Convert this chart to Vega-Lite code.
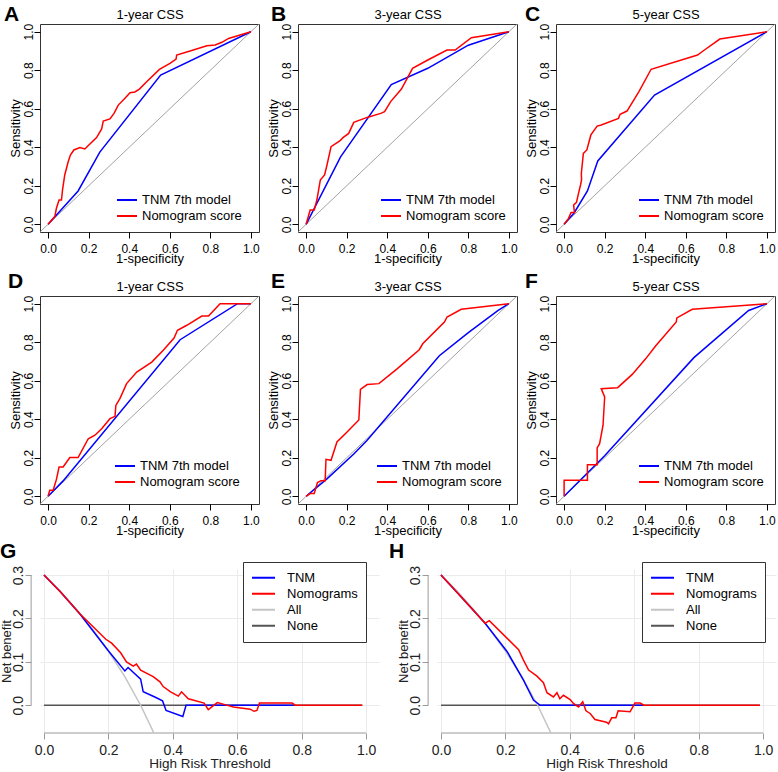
{
"$schema":"https://vega.github.io/schema/vega-lite/v6.json",
"padding":{"left":0,"top":3,"right":1,"bottom":1},
"background":"white",
"config":{
 "font":"Liberation Sans",
 "numberFormat":".1f",
 "view":{"stroke":"#333","strokeWidth":1},
 "axis":{"labelColor":"black","titleColor":"black","tickColor":"black","titleFontWeight":"normal","domain":false,"grid":false,"labelFlush":false,"labelOverlap":false},
 "axisY":{"labelAngle":-90,"labelAlign":"center","labelBaseline":"bottom"},
 "title":{"fontSize":21,"fontWeight":"bold","anchor":"start","frame":"bounds","color":"black","offset":0},
 "legend":{"labelColor":"black","symbolType":"stroke"}
},
"datasets":{
 "A":[
  {"m":"TNM 7th model","i":0,"x":0,"y":0},{"m":"TNM 7th model","i":1,"x":0.148,"y":0.173},{"m":"TNM 7th model","i":2,"x":0.255,"y":0.375},{"m":"TNM 7th model","i":3,"x":0.555,"y":0.775},{"m":"TNM 7th model","i":4,"x":1,"y":1},
  {"m":"Nomogram score","i":0,"x":0,"y":0},{"m":"Nomogram score","i":1,"x":0.033,"y":0.04},{"m":"Nomogram score","i":2,"x":0.041,"y":0.083},{"m":"Nomogram score","i":3,"x":0.054,"y":0.126},{"m":"Nomogram score","i":4,"x":0.066,"y":0.126},{"m":"Nomogram score","i":5,"x":0.071,"y":0.178},{"m":"Nomogram score","i":6,"x":0.082,"y":0.256},{"m":"Nomogram score","i":7,"x":0.099,"y":0.325},{"m":"Nomogram score","i":8,"x":0.11,"y":0.36},{"m":"Nomogram score","i":9,"x":0.127,"y":0.386},{"m":"Nomogram score","i":10,"x":0.157,"y":0.398},{"m":"Nomogram score","i":11,"x":0.181,"y":0.391},{"m":"Nomogram score","i":12,"x":0.206,"y":0.417},{"m":"Nomogram score","i":13,"x":0.239,"y":0.45},{"m":"Nomogram score","i":14,"x":0.264,"y":0.495},{"m":"Nomogram score","i":15,"x":0.272,"y":0.536},{"m":"Nomogram score","i":16,"x":0.305,"y":0.547},{"m":"Nomogram score","i":17,"x":0.325,"y":0.576},{"m":"Nomogram score","i":18,"x":0.346,"y":0.619},{"m":"Nomogram score","i":19,"x":0.379,"y":0.654},{"m":"Nomogram score","i":20,"x":0.404,"y":0.683},{"m":"Nomogram score","i":21,"x":0.428,"y":0.687},{"m":"Nomogram score","i":22,"x":0.45,"y":0.702},{"m":"Nomogram score","i":23,"x":0.486,"y":0.74},{"m":"Nomogram score","i":24,"x":0.549,"y":0.804},{"m":"Nomogram score","i":25,"x":0.601,"y":0.836},{"m":"Nomogram score","i":26,"x":0.631,"y":0.858},{"m":"Nomogram score","i":27,"x":0.634,"y":0.879},{"m":"Nomogram score","i":28,"x":0.7,"y":0.9},{"m":"Nomogram score","i":29,"x":0.783,"y":0.927},{"m":"Nomogram score","i":30,"x":0.824,"y":0.931},{"m":"Nomogram score","i":31,"x":0.857,"y":0.945},{"m":"Nomogram score","i":32,"x":0.89,"y":0.965},{"m":"Nomogram score","i":33,"x":1,"y":1}
 ],
 "B":[
  {"m":"TNM 7th model","i":0,"x":0,"y":0},{"m":"TNM 7th model","i":1,"x":0.17,"y":0.35},{"m":"TNM 7th model","i":2,"x":0.42,"y":0.725},{"m":"TNM 7th model","i":3,"x":0.6,"y":0.81},{"m":"TNM 7th model","i":4,"x":0.8,"y":0.93},{"m":"TNM 7th model","i":5,"x":1,"y":1},
  {"m":"Nomogram score","i":0,"x":0,"y":0},{"m":"Nomogram score","i":1,"x":0.02,"y":0.074},{"m":"Nomogram score","i":2,"x":0.04,"y":0.074},{"m":"Nomogram score","i":3,"x":0.053,"y":0.126},{"m":"Nomogram score","i":4,"x":0.07,"y":0.23},{"m":"Nomogram score","i":5,"x":0.091,"y":0.256},{"m":"Nomogram score","i":6,"x":0.103,"y":0.308},{"m":"Nomogram score","i":7,"x":0.123,"y":0.403},{"m":"Nomogram score","i":8,"x":0.166,"y":0.433},{"m":"Nomogram score","i":9,"x":0.182,"y":0.45},{"m":"Nomogram score","i":10,"x":0.21,"y":0.472},{"m":"Nomogram score","i":11,"x":0.235,"y":0.529},{"m":"Nomogram score","i":12,"x":0.301,"y":0.555},{"m":"Nomogram score","i":13,"x":0.368,"y":0.576},{"m":"Nomogram score","i":14,"x":0.387,"y":0.585},{"m":"Nomogram score","i":15,"x":0.417,"y":0.637},{"m":"Nomogram score","i":16,"x":0.47,"y":0.702},{"m":"Nomogram score","i":17,"x":0.525,"y":0.81},{"m":"Nomogram score","i":18,"x":0.6,"y":0.853},{"m":"Nomogram score","i":19,"x":0.695,"y":0.905},{"m":"Nomogram score","i":20,"x":0.735,"y":0.905},{"m":"Nomogram score","i":21,"x":0.815,"y":0.969},{"m":"Nomogram score","i":22,"x":1,"y":1}
 ],
 "C":[
  {"m":"TNM 7th model","i":0,"x":0,"y":0},{"m":"TNM 7th model","i":1,"x":0.05,"y":0.06},{"m":"TNM 7th model","i":2,"x":0.115,"y":0.173},{"m":"TNM 7th model","i":3,"x":0.166,"y":0.329},{"m":"TNM 7th model","i":4,"x":0.446,"y":0.671},{"m":"TNM 7th model","i":5,"x":1,"y":1},
  {"m":"Nomogram score","i":0,"x":0,"y":0},{"m":"Nomogram score","i":1,"x":0.022,"y":0.031},{"m":"Nomogram score","i":2,"x":0.034,"y":0.061},{"m":"Nomogram score","i":3,"x":0.051,"y":0.061},{"m":"Nomogram score","i":4,"x":0.047,"y":0.1},{"m":"Nomogram score","i":5,"x":0.061,"y":0.114},{"m":"Nomogram score","i":6,"x":0.073,"y":0.17},{"m":"Nomogram score","i":7,"x":0.081,"y":0.204},{"m":"Nomogram score","i":8,"x":0.086,"y":0.23},{"m":"Nomogram score","i":9,"x":0.085,"y":0.265},{"m":"Nomogram score","i":10,"x":0.095,"y":0.368},{"m":"Nomogram score","i":11,"x":0.112,"y":0.386},{"m":"Nomogram score","i":12,"x":0.132,"y":0.464},{"m":"Nomogram score","i":13,"x":0.163,"y":0.51},{"m":"Nomogram score","i":14,"x":0.183,"y":0.516},{"m":"Nomogram score","i":15,"x":0.268,"y":0.55},{"m":"Nomogram score","i":16,"x":0.276,"y":0.571},{"m":"Nomogram score","i":17,"x":0.31,"y":0.588},{"m":"Nomogram score","i":18,"x":0.369,"y":0.689},{"m":"Nomogram score","i":19,"x":0.429,"y":0.805},{"m":"Nomogram score","i":20,"x":0.658,"y":0.879},{"m":"Nomogram score","i":21,"x":0.692,"y":0.905},{"m":"Nomogram score","i":22,"x":0.768,"y":0.962},{"m":"Nomogram score","i":23,"x":1,"y":1}
 ],
 "D":[
  {"m":"TNM 7th model","i":0,"x":0,"y":0},{"m":"TNM 7th model","i":1,"x":0.074,"y":0.08},{"m":"TNM 7th model","i":2,"x":0.651,"y":0.813},{"m":"TNM 7th model","i":3,"x":0.934,"y":1},{"m":"TNM 7th model","i":4,"x":1,"y":1},
  {"m":"Nomogram score","i":0,"x":0,"y":0},{"m":"Nomogram score","i":1,"x":0.008,"y":0.031},{"m":"Nomogram score","i":2,"x":0.025,"y":0.031},{"m":"Nomogram score","i":3,"x":0.041,"y":0.088},{"m":"Nomogram score","i":4,"x":0.054,"y":0.152},{"m":"Nomogram score","i":5,"x":0.074,"y":0.152},{"m":"Nomogram score","i":6,"x":0.107,"y":0.201},{"m":"Nomogram score","i":7,"x":0.148,"y":0.201},{"m":"Nomogram score","i":8,"x":0.198,"y":0.299},{"m":"Nomogram score","i":9,"x":0.231,"y":0.317},{"m":"Nomogram score","i":10,"x":0.264,"y":0.351},{"m":"Nomogram score","i":11,"x":0.305,"y":0.403},{"m":"Nomogram score","i":12,"x":0.33,"y":0.415},{"m":"Nomogram score","i":13,"x":0.334,"y":0.472},{"m":"Nomogram score","i":14,"x":0.354,"y":0.507},{"m":"Nomogram score","i":15,"x":0.387,"y":0.585},{"m":"Nomogram score","i":16,"x":0.437,"y":0.645},{"m":"Nomogram score","i":17,"x":0.511,"y":0.697},{"m":"Nomogram score","i":18,"x":0.568,"y":0.758},{"m":"Nomogram score","i":19,"x":0.621,"y":0.822},{"m":"Nomogram score","i":20,"x":0.638,"y":0.862},{"m":"Nomogram score","i":21,"x":0.684,"y":0.888},{"m":"Nomogram score","i":22,"x":0.758,"y":0.936},{"m":"Nomogram score","i":23,"x":0.791,"y":0.936},{"m":"Nomogram score","i":24,"x":0.848,"y":1},{"m":"Nomogram score","i":25,"x":1,"y":1}
 ],
 "E":[
  {"m":"TNM 7th model","i":0,"x":0,"y":0},{"m":"TNM 7th model","i":1,"x":0.1,"y":0.088},{"m":"TNM 7th model","i":2,"x":0.235,"y":0.22},{"m":"TNM 7th model","i":3,"x":0.3,"y":0.29},{"m":"TNM 7th model","i":4,"x":0.657,"y":0.73},{"m":"TNM 7th model","i":5,"x":0.8,"y":0.85},{"m":"TNM 7th model","i":6,"x":0.947,"y":0.965},{"m":"TNM 7th model","i":7,"x":1,"y":1},
  {"m":"Nomogram score","i":0,"x":0,"y":0},{"m":"Nomogram score","i":1,"x":0.02,"y":0.014},{"m":"Nomogram score","i":2,"x":0.04,"y":0.014},{"m":"Nomogram score","i":3,"x":0.056,"y":0.071},{"m":"Nomogram score","i":4,"x":0.073,"y":0.081},{"m":"Nomogram score","i":5,"x":0.094,"y":0.081},{"m":"Nomogram score","i":6,"x":0.098,"y":0.192},{"m":"Nomogram score","i":7,"x":0.123,"y":0.187},{"m":"Nomogram score","i":8,"x":0.152,"y":0.282},{"m":"Nomogram score","i":9,"x":0.202,"y":0.334},{"m":"Nomogram score","i":10,"x":0.26,"y":0.396},{"m":"Nomogram score","i":11,"x":0.268,"y":0.555},{"m":"Nomogram score","i":12,"x":0.301,"y":0.58},{"m":"Nomogram score","i":13,"x":0.359,"y":0.585},{"m":"Nomogram score","i":14,"x":0.45,"y":0.663},{"m":"Nomogram score","i":15,"x":0.558,"y":0.761},{"m":"Nomogram score","i":16,"x":0.575,"y":0.792},{"m":"Nomogram score","i":17,"x":0.682,"y":0.905},{"m":"Nomogram score","i":18,"x":0.695,"y":0.931},{"m":"Nomogram score","i":19,"x":0.765,"y":0.971},{"m":"Nomogram score","i":20,"x":1,"y":1}
 ],
 "F":[
  {"m":"TNM 7th model","i":0,"x":0,"y":0},{"m":"TNM 7th model","i":1,"x":0.2,"y":0.21},{"m":"TNM 7th model","i":2,"x":0.64,"y":0.72},{"m":"TNM 7th model","i":3,"x":0.91,"y":0.965},{"m":"TNM 7th model","i":4,"x":1,"y":1},
  {"m":"Nomogram score","i":0,"x":0,"y":0},{"m":"Nomogram score","i":1,"x":0,"y":0.083},{"m":"Nomogram score","i":2,"x":0.115,"y":0.083},{"m":"Nomogram score","i":3,"x":0.115,"y":0.164},{"m":"Nomogram score","i":4,"x":0.163,"y":0.164},{"m":"Nomogram score","i":5,"x":0.163,"y":0.251},{"m":"Nomogram score","i":6,"x":0.175,"y":0.273},{"m":"Nomogram score","i":7,"x":0.192,"y":0.369},{"m":"Nomogram score","i":8,"x":0.2,"y":0.516},{"m":"Nomogram score","i":9,"x":0.183,"y":0.559},{"m":"Nomogram score","i":10,"x":0.264,"y":0.564},{"m":"Nomogram score","i":11,"x":0.336,"y":0.633},{"m":"Nomogram score","i":12,"x":0.403,"y":0.715},{"m":"Nomogram score","i":13,"x":0.451,"y":0.78},{"m":"Nomogram score","i":14,"x":0.553,"y":0.905},{"m":"Nomogram score","i":15,"x":0.556,"y":0.926},{"m":"Nomogram score","i":16,"x":0.632,"y":0.971},{"m":"Nomogram score","i":17,"x":1,"y":1}
 ],
 "G":[
  {"s":"None","i":0,"x":0,"y":0},{"s":"None","i":1,"x":0.988,"y":0},
  {"s":"All","i":0,"x":0,"y":0.3},{"s":"All","i":1,"x":0.05,"y":0.263},{"s":"All","i":2,"x":0.1,"y":0.222},{"s":"All","i":3,"x":0.15,"y":0.176},{"s":"All","i":4,"x":0.2,"y":0.125},{"s":"All","i":5,"x":0.25,"y":0.067},{"s":"All","i":6,"x":0.3,"y":0},{"s":"All","i":7,"x":0.345,"y":-0.07},
  {"s":"TNM","i":0,"x":0,"y":0.3},{"s":"TNM","i":1,"x":0.05,"y":0.262},{"s":"TNM","i":2,"x":0.111,"y":0.211},{"s":"TNM","i":3,"x":0.199,"y":0.126},{"s":"TNM","i":4,"x":0.251,"y":0.079},{"s":"TNM","i":5,"x":0.261,"y":0.087},{"s":"TNM","i":6,"x":0.3,"y":0.06},{"s":"TNM","i":7,"x":0.308,"y":0.031},{"s":"TNM","i":8,"x":0.344,"y":0.019},{"s":"TNM","i":9,"x":0.368,"y":0.01},{"s":"TNM","i":10,"x":0.379,"y":-0.012},{"s":"TNM","i":11,"x":0.431,"y":-0.026},{"s":"TNM","i":12,"x":0.441,"y":0},{"s":"TNM","i":13,"x":0.775,"y":0},
  {"s":"Nomograms","i":0,"x":0,"y":0.3},{"s":"Nomograms","i":1,"x":0.05,"y":0.262},{"s":"Nomograms","i":2,"x":0.111,"y":0.211},{"s":"Nomograms","i":3,"x":0.147,"y":0.185},{"s":"Nomograms","i":4,"x":0.192,"y":0.152},{"s":"Nomograms","i":5,"x":0.21,"y":0.143},{"s":"Nomograms","i":6,"x":0.238,"y":0.121},{"s":"Nomograms","i":7,"x":0.256,"y":0.1},{"s":"Nomograms","i":8,"x":0.277,"y":0.09},{"s":"Nomograms","i":9,"x":0.287,"y":0.095},{"s":"Nomograms","i":10,"x":0.3,"y":0.081},{"s":"Nomograms","i":11,"x":0.339,"y":0.066},{"s":"Nomograms","i":12,"x":0.36,"y":0.054},{"s":"Nomograms","i":13,"x":0.37,"y":0.043},{"s":"Nomograms","i":14,"x":0.393,"y":0.031},{"s":"Nomograms","i":15,"x":0.417,"y":0.021},{"s":"Nomograms","i":16,"x":0.427,"y":0.031},{"s":"Nomograms","i":17,"x":0.448,"y":0.015},{"s":"Nomograms","i":18,"x":0.497,"y":0.005},{"s":"Nomograms","i":19,"x":0.51,"y":-0.01},{"s":"Nomograms","i":20,"x":0.538,"y":0.006},{"s":"Nomograms","i":21,"x":0.559,"y":0.002},{"s":"Nomograms","i":22,"x":0.588,"y":-0.004},{"s":"Nomograms","i":23,"x":0.64,"y":-0.009},{"s":"Nomograms","i":24,"x":0.652,"y":-0.014},{"s":"Nomograms","i":25,"x":0.661,"y":-0.012},{"s":"Nomograms","i":26,"x":0.669,"y":0.005},{"s":"Nomograms","i":27,"x":0.77,"y":0.005},{"s":"Nomograms","i":28,"x":0.78,"y":0},{"s":"Nomograms","i":29,"x":0.988,"y":0}
 ],
 "H":[
  {"s":"None","i":0,"x":0,"y":0},{"s":"None","i":1,"x":0.99,"y":0},
  {"s":"All","i":0,"x":0,"y":0.3},{"s":"All","i":1,"x":0.05,"y":0.263},{"s":"All","i":2,"x":0.1,"y":0.222},{"s":"All","i":3,"x":0.15,"y":0.176},{"s":"All","i":4,"x":0.2,"y":0.125},{"s":"All","i":5,"x":0.25,"y":0.067},{"s":"All","i":6,"x":0.3,"y":0},{"s":"All","i":7,"x":0.345,"y":-0.07},
  {"s":"TNM","i":0,"x":0,"y":0.3},{"s":"TNM","i":1,"x":0.05,"y":0.26},{"s":"TNM","i":2,"x":0.137,"y":0.189},{"s":"TNM","i":3,"x":0.205,"y":0.124},{"s":"TNM","i":4,"x":0.256,"y":0.058},{"s":"TNM","i":5,"x":0.287,"y":0.012},{"s":"TNM","i":6,"x":0.308,"y":0},{"s":"TNM","i":7,"x":0.628,"y":0},
  {"s":"Nomograms","i":0,"x":0,"y":0.3},{"s":"Nomograms","i":1,"x":0.05,"y":0.26},{"s":"Nomograms","i":2,"x":0.137,"y":0.189},{"s":"Nomograms","i":3,"x":0.15,"y":0.195},{"s":"Nomograms","i":4,"x":0.241,"y":0.128},{"s":"Nomograms","i":5,"x":0.256,"y":0.104},{"s":"Nomograms","i":6,"x":0.272,"y":0.081},{"s":"Nomograms","i":7,"x":0.298,"y":0.067},{"s":"Nomograms","i":8,"x":0.318,"y":0.052},{"s":"Nomograms","i":9,"x":0.329,"y":0.029},{"s":"Nomograms","i":10,"x":0.349,"y":0.019},{"s":"Nomograms","i":11,"x":0.36,"y":0.029},{"s":"Nomograms","i":12,"x":0.369,"y":0.015},{"s":"Nomograms","i":13,"x":0.38,"y":0.023},{"s":"Nomograms","i":14,"x":0.401,"y":0.013},{"s":"Nomograms","i":15,"x":0.411,"y":0.004},{"s":"Nomograms","i":16,"x":0.427,"y":-0.004},{"s":"Nomograms","i":17,"x":0.44,"y":0.008},{"s":"Nomograms","i":18,"x":0.45,"y":-0.013},{"s":"Nomograms","i":19,"x":0.463,"y":-0.019},{"s":"Nomograms","i":20,"x":0.478,"y":-0.033},{"s":"Nomograms","i":21,"x":0.514,"y":-0.039},{"s":"Nomograms","i":22,"x":0.52,"y":-0.043},{"s":"Nomograms","i":23,"x":0.53,"y":-0.029},{"s":"Nomograms","i":24,"x":0.543,"y":-0.029},{"s":"Nomograms","i":25,"x":0.55,"y":-0.013},{"s":"Nomograms","i":26,"x":0.587,"y":-0.015},{"s":"Nomograms","i":27,"x":0.602,"y":0.005},{"s":"Nomograms","i":28,"x":0.618,"y":0.005},{"s":"Nomograms","i":29,"x":0.63,"y":0},{"s":"Nomograms","i":30,"x":0.99,"y":0}
 ]
},
"resolve":{"scale":{"color":"independent"},"legend":{"color":"independent"}},
"spacing":2,
"vconcat":[
 {"vconcat":[
 {"hconcat":[
  {"width":219,"height":208,"title":{"text":"A","dy":21,"dx":-5},"data":{"name":"A"},
   "layer":[
    {"data":{"values":[{"x":-0.04,"y":-0.04},{"x":1.04,"y":1.04}]},"mark":{"type":"line","color":"#8a8a8a","strokeWidth":0.8,"clip":true},
     "encoding":{"x":{"field":"x","type":"quantitative","scale":{"domain":[-0.04,1.04],"nice":false,"zero":false},"axis":{"orient":"top","labels":false,"ticks":false,"title":"1-year CSS","titleFontSize":13,"titleFontWeight":"normal","titlePadding":3}},
      "y":{"field":"y","type":"quantitative","scale":{"domain":[-0.04,1.04],"nice":false,"zero":false},"axis":{"values":[0,0.2,0.4,0.6,0.8,1],"tickSize":6,"labelFontSize":12,"labelPadding":-1,"title":"Sensitivity","titleFontSize":13,"titlePadding":0}}}},
    {"transform":[{"filter":"datum.m=='TNM 7th model'"}],"mark":{"type":"line","strokeWidth":1.5,"clip":true},
     "encoding":{"x":{"field":"x","type":"quantitative","axis":{"orient":"bottom","values":[0,0.2,0.4,0.6,0.8,1],"tickSize":6,"labelFontSize":12,"labelPadding":5,"title":"1-specificity","titleFontSize":13,"titlePadding":-2}},"y":{"field":"y","type":"quantitative"},"order":{"field":"i"},
      "color":{"field":"m","type":"nominal","scale":{"domain":["TNM 7th model","Nomogram score"],"range":["#0000ff","#ff0000"]},"legend":{"title":null,"orient":"none","legendX":76,"legendY":168,"symbolSize":400,"symbolStrokeWidth":2,"labelFontSize":13,"labelOffset":4,"rowPadding":0,"clipHeight":16,"padding":0}}}},
    {"transform":[{"filter":"datum.m=='Nomogram score'"}],"mark":{"type":"line","strokeWidth":1.5,"clip":true},
     "encoding":{"x":{"field":"x","type":"quantitative","axis":null},"y":{"field":"y","type":"quantitative"},"order":{"field":"i"},
      "color":{"field":"m","type":"nominal","scale":{"domain":["TNM 7th model","Nomogram score"],"range":["#0000ff","#ff0000"]},"legend":{"title":null,"orient":"none","legendX":76,"legendY":168,"symbolSize":400,"symbolStrokeWidth":2,"labelFontSize":13,"labelOffset":4,"rowPadding":0,"clipHeight":16,"padding":0}}}}
   ],
   "resolve":{"axis":{"x":"independent"}}},
  {"width":219,"height":208,"title":{"text":"B","dy":21,"dx":4},"data":{"name":"B"},
   "layer":[
    {"data":{"values":[{"x":-0.04,"y":-0.04},{"x":1.04,"y":1.04}]},"mark":{"type":"line","color":"#8a8a8a","strokeWidth":0.8,"clip":true},
     "encoding":{"x":{"field":"x","type":"quantitative","scale":{"domain":[-0.04,1.04],"nice":false,"zero":false},"axis":{"orient":"top","labels":false,"ticks":false,"title":"3-year CSS","titleFontSize":13,"titleFontWeight":"normal","titlePadding":3}},
      "y":{"field":"y","type":"quantitative","scale":{"domain":[-0.04,1.04],"nice":false,"zero":false},"axis":{"values":[0,0.2,0.4,0.6,0.8,1],"tickSize":6,"labelFontSize":12,"labelPadding":-1,"title":"Sensitivity","titleFontSize":13,"titlePadding":0}}}},
    {"transform":[{"filter":"datum.m=='TNM 7th model'"}],"mark":{"type":"line","strokeWidth":1.5,"clip":true},
     "encoding":{"x":{"field":"x","type":"quantitative","axis":{"orient":"bottom","values":[0,0.2,0.4,0.6,0.8,1],"tickSize":6,"labelFontSize":12,"labelPadding":5,"title":"1-specificity","titleFontSize":13,"titlePadding":-2}},"y":{"field":"y","type":"quantitative"},"order":{"field":"i"},
      "color":{"field":"m","type":"nominal","scale":{"domain":["TNM 7th model","Nomogram score"],"range":["#0000ff","#ff0000"]},"legend":{"title":null,"orient":"none","legendX":82,"legendY":168,"symbolSize":400,"symbolStrokeWidth":2,"labelFontSize":13,"labelOffset":4,"rowPadding":0,"clipHeight":16,"padding":0}}}},
    {"transform":[{"filter":"datum.m=='Nomogram score'"}],"mark":{"type":"line","strokeWidth":1.5,"clip":true},
     "encoding":{"x":{"field":"x","type":"quantitative","axis":null},"y":{"field":"y","type":"quantitative"},"order":{"field":"i"},
      "color":{"field":"m","type":"nominal","scale":{"domain":["TNM 7th model","Nomogram score"],"range":["#0000ff","#ff0000"]},"legend":{"title":null,"orient":"none","legendX":82,"legendY":168,"symbolSize":400,"symbolStrokeWidth":2,"labelFontSize":13,"labelOffset":4,"rowPadding":0,"clipHeight":16,"padding":0}}}}
   ],
   "resolve":{"axis":{"x":"independent"}}},
  {"width":219,"height":208,"title":{"text":"C","dy":21,"dx":0},"data":{"name":"C"},
   "layer":[
    {"data":{"values":[{"x":-0.04,"y":-0.04},{"x":1.04,"y":1.04}]},"mark":{"type":"line","color":"#8a8a8a","strokeWidth":0.8,"clip":true},
     "encoding":{"x":{"field":"x","type":"quantitative","scale":{"domain":[-0.04,1.04],"nice":false,"zero":false},"axis":{"orient":"top","labels":false,"ticks":false,"title":"5-year CSS","titleFontSize":13,"titleFontWeight":"normal","titlePadding":3}},
      "y":{"field":"y","type":"quantitative","scale":{"domain":[-0.04,1.04],"nice":false,"zero":false},"axis":{"values":[0,0.2,0.4,0.6,0.8,1],"tickSize":6,"labelFontSize":12,"labelPadding":-1,"title":"Sensitivity","titleFontSize":13,"titlePadding":0}}}},
    {"transform":[{"filter":"datum.m=='TNM 7th model'"}],"mark":{"type":"line","strokeWidth":1.5,"clip":true},
     "encoding":{"x":{"field":"x","type":"quantitative","axis":{"orient":"bottom","values":[0,0.2,0.4,0.6,0.8,1],"tickSize":6,"labelFontSize":12,"labelPadding":5,"title":"1-specificity","titleFontSize":13,"titlePadding":-2}},"y":{"field":"y","type":"quantitative"},"order":{"field":"i"},
      "color":{"field":"m","type":"nominal","scale":{"domain":["TNM 7th model","Nomogram score"],"range":["#0000ff","#ff0000"]},"legend":{"title":null,"orient":"none","legendX":82,"legendY":168,"symbolSize":400,"symbolStrokeWidth":2,"labelFontSize":13,"labelOffset":4,"rowPadding":0,"clipHeight":16,"padding":0}}}},
    {"transform":[{"filter":"datum.m=='Nomogram score'"}],"mark":{"type":"line","strokeWidth":1.5,"clip":true},
     "encoding":{"x":{"field":"x","type":"quantitative","axis":null},"y":{"field":"y","type":"quantitative"},"order":{"field":"i"},
      "color":{"field":"m","type":"nominal","scale":{"domain":["TNM 7th model","Nomogram score"],"range":["#0000ff","#ff0000"]},"legend":{"title":null,"orient":"none","legendX":82,"legendY":168,"symbolSize":400,"symbolStrokeWidth":2,"labelFontSize":13,"labelOffset":4,"rowPadding":0,"clipHeight":16,"padding":0}}}}
   ],
   "resolve":{"axis":{"x":"independent"}}}
 ],"bounds":"flush","spacing":39,"resolve":{"scale":{"color":"independent"},"legend":{"color":"independent"}}},
 {"hconcat":[
  {"width":219,"height":208,"title":{"text":"D","dy":16,"dx":-1},"data":{"name":"D"},
   "layer":[
    {"data":{"values":[{"x":-0.04,"y":-0.04},{"x":1.04,"y":1.04}]},"mark":{"type":"line","color":"#8a8a8a","strokeWidth":0.8,"clip":true},
     "encoding":{"x":{"field":"x","type":"quantitative","scale":{"domain":[-0.04,1.04],"nice":false,"zero":false},"axis":{"orient":"top","labels":false,"ticks":false,"title":"1-year CSS","titleFontSize":13,"titleFontWeight":"normal","titlePadding":3}},
      "y":{"field":"y","type":"quantitative","scale":{"domain":[-0.04,1.04],"nice":false,"zero":false},"axis":{"values":[0,0.2,0.4,0.6,0.8,1],"tickSize":6,"labelFontSize":12,"labelPadding":-1,"title":"Sensitivity","titleFontSize":13,"titlePadding":0}}}},
    {"transform":[{"filter":"datum.m=='TNM 7th model'"}],"mark":{"type":"line","strokeWidth":1.5,"clip":true},
     "encoding":{"x":{"field":"x","type":"quantitative","axis":{"orient":"bottom","values":[0,0.2,0.4,0.6,0.8,1],"tickSize":6,"labelFontSize":12,"labelPadding":5,"title":"1-specificity","titleFontSize":13,"titlePadding":-2}},"y":{"field":"y","type":"quantitative"},"order":{"field":"i"},
      "color":{"field":"m","type":"nominal","scale":{"domain":["TNM 7th model","Nomogram score"],"range":["#0000ff","#ff0000"]},"legend":{"title":null,"orient":"none","legendX":74,"legendY":162,"symbolSize":400,"symbolStrokeWidth":2,"labelFontSize":13,"labelOffset":4,"rowPadding":0,"clipHeight":16,"padding":0}}}},
    {"transform":[{"filter":"datum.m=='Nomogram score'"}],"mark":{"type":"line","strokeWidth":1.5,"clip":true},
     "encoding":{"x":{"field":"x","type":"quantitative","axis":null},"y":{"field":"y","type":"quantitative"},"order":{"field":"i"},
      "color":{"field":"m","type":"nominal","scale":{"domain":["TNM 7th model","Nomogram score"],"range":["#0000ff","#ff0000"]},"legend":{"title":null,"orient":"none","legendX":74,"legendY":162,"symbolSize":400,"symbolStrokeWidth":2,"labelFontSize":13,"labelOffset":4,"rowPadding":0,"clipHeight":16,"padding":0}}}}
   ],
   "resolve":{"axis":{"x":"independent"}}},
  {"width":219,"height":208,"title":{"text":"E","dy":16,"dx":4},"data":{"name":"E"},
   "layer":[
    {"data":{"values":[{"x":-0.04,"y":-0.04},{"x":1.04,"y":1.04}]},"mark":{"type":"line","color":"#8a8a8a","strokeWidth":0.8,"clip":true},
     "encoding":{"x":{"field":"x","type":"quantitative","scale":{"domain":[-0.04,1.04],"nice":false,"zero":false},"axis":{"orient":"top","labels":false,"ticks":false,"title":"3-year CSS","titleFontSize":13,"titleFontWeight":"normal","titlePadding":3}},
      "y":{"field":"y","type":"quantitative","scale":{"domain":[-0.04,1.04],"nice":false,"zero":false},"axis":{"values":[0,0.2,0.4,0.6,0.8,1],"tickSize":6,"labelFontSize":12,"labelPadding":-1,"title":"Sensitivity","titleFontSize":13,"titlePadding":0}}}},
    {"transform":[{"filter":"datum.m=='TNM 7th model'"}],"mark":{"type":"line","strokeWidth":1.5,"clip":true},
     "encoding":{"x":{"field":"x","type":"quantitative","axis":{"orient":"bottom","values":[0,0.2,0.4,0.6,0.8,1],"tickSize":6,"labelFontSize":12,"labelPadding":5,"title":"1-specificity","titleFontSize":13,"titlePadding":-2}},"y":{"field":"y","type":"quantitative"},"order":{"field":"i"},
      "color":{"field":"m","type":"nominal","scale":{"domain":["TNM 7th model","Nomogram score"],"range":["#0000ff","#ff0000"]},"legend":{"title":null,"orient":"none","legendX":78,"legendY":162,"symbolSize":400,"symbolStrokeWidth":2,"labelFontSize":13,"labelOffset":4,"rowPadding":0,"clipHeight":16,"padding":0}}}},
    {"transform":[{"filter":"datum.m=='Nomogram score'"}],"mark":{"type":"line","strokeWidth":1.5,"clip":true},
     "encoding":{"x":{"field":"x","type":"quantitative","axis":null},"y":{"field":"y","type":"quantitative"},"order":{"field":"i"},
      "color":{"field":"m","type":"nominal","scale":{"domain":["TNM 7th model","Nomogram score"],"range":["#0000ff","#ff0000"]},"legend":{"title":null,"orient":"none","legendX":78,"legendY":162,"symbolSize":400,"symbolStrokeWidth":2,"labelFontSize":13,"labelOffset":4,"rowPadding":0,"clipHeight":16,"padding":0}}}}
   ],
   "resolve":{"axis":{"x":"independent"}}},
  {"width":219,"height":208,"title":{"text":"F","dy":16,"dx":0},"data":{"name":"F"},
   "layer":[
    {"data":{"values":[{"x":-0.04,"y":-0.04},{"x":1.04,"y":1.04}]},"mark":{"type":"line","color":"#8a8a8a","strokeWidth":0.8,"clip":true},
     "encoding":{"x":{"field":"x","type":"quantitative","scale":{"domain":[-0.04,1.04],"nice":false,"zero":false},"axis":{"orient":"top","labels":false,"ticks":false,"title":"5-year CSS","titleFontSize":13,"titleFontWeight":"normal","titlePadding":3}},
      "y":{"field":"y","type":"quantitative","scale":{"domain":[-0.04,1.04],"nice":false,"zero":false},"axis":{"values":[0,0.2,0.4,0.6,0.8,1],"tickSize":6,"labelFontSize":12,"labelPadding":-1,"title":"Sensitivity","titleFontSize":13,"titlePadding":0}}}},
    {"transform":[{"filter":"datum.m=='TNM 7th model'"}],"mark":{"type":"line","strokeWidth":1.5,"clip":true},
     "encoding":{"x":{"field":"x","type":"quantitative","axis":{"orient":"bottom","values":[0,0.2,0.4,0.6,0.8,1],"tickSize":6,"labelFontSize":12,"labelPadding":5,"title":"1-specificity","titleFontSize":13,"titlePadding":-2}},"y":{"field":"y","type":"quantitative"},"order":{"field":"i"},
      "color":{"field":"m","type":"nominal","scale":{"domain":["TNM 7th model","Nomogram score"],"range":["#0000ff","#ff0000"]},"legend":{"title":null,"orient":"none","legendX":82,"legendY":162,"symbolSize":400,"symbolStrokeWidth":2,"labelFontSize":13,"labelOffset":4,"rowPadding":0,"clipHeight":16,"padding":0}}}},
    {"transform":[{"filter":"datum.m=='Nomogram score'"}],"mark":{"type":"line","strokeWidth":1.5,"clip":true},
     "encoding":{"x":{"field":"x","type":"quantitative","axis":null},"y":{"field":"y","type":"quantitative"},"order":{"field":"i"},
      "color":{"field":"m","type":"nominal","scale":{"domain":["TNM 7th model","Nomogram score"],"range":["#0000ff","#ff0000"]},"legend":{"title":null,"orient":"none","legendX":82,"legendY":162,"symbolSize":400,"symbolStrokeWidth":2,"labelFontSize":13,"labelOffset":4,"rowPadding":0,"clipHeight":16,"padding":0}}}}
   ],
   "resolve":{"axis":{"x":"independent"}}}
 ],"bounds":"flush","spacing":39,"resolve":{"scale":{"color":"independent"},"legend":{"color":"independent"}}}
 ],"spacing":4,"resolve":{"scale":{"color":"independent"},"legend":{"color":"independent"}}},
 {"hconcat":[
  {"width":339,"height":164,"view":{"stroke":null},"title":{"text":"G","dy":4},"data":{"name":"G"},
   "layer":[
    {"data":{"values":[{}]},"mark":{"type":"rule","color":"#9a9a9a","strokeWidth":1},
     "encoding":{"x":{"datum":0,"type":"quantitative","scale":{"domain":[-0.0124,1.04],"nice":false,"zero":false},"axis":{"values":[0,0.2,0.4,0.6,0.8,1],"grid":true,"gridColor":"#ebebeb","tickSize":6,"tickColor":"#9a9a9a","labelFontSize":14,"labelPadding":4,"labelColor":"#222","title":"High Risk Threshold","titleFontSize":13.5,"titleColor":"#222","titlePadding":-1}},"x2":{"datum":1},
      "y":{"datum":-0.064,"type":"quantitative","scale":{"domain":[-0.064,0.314],"nice":false,"zero":false},"axis":{"values":[0,0.1,0.2,0.3],"offset":9,"grid":true,"gridColor":"#ebebeb","tickSize":6,"tickColor":"#9a9a9a","labelFontSize":14,"labelPadding":0,"labelColor":"#222","title":"Net benefit","titleFontSize":13,"titleColor":"#222","titlePadding":-2}}}},
    {"data":{"values":[{}]},"mark":{"type":"rule","color":"#9a9a9a","strokeWidth":1},
     "encoding":{"x":{"datum":-0.04,"type":"quantitative"},"y":{"datum":0,"type":"quantitative"},"y2":{"datum":0.3}}},
    {"transform":[{"filter":"datum.s=='None' || datum.s=='All'"}],"mark":{"type":"line","strokeWidth":1.5,"clip":true},
     "encoding":{"x":{"field":"x","type":"quantitative"},"y":{"field":"y","type":"quantitative"},"order":{"field":"i"},
      "color":{"field":"s","type":"nominal","scale":{"domain":["TNM","Nomograms","All","None"],"range":["#0000ff","#ff0000","#c4c4c4","#555555"]},"legend":{"title":null,"orient":"none","legendX":203,"legendY":-7,"symbolSize":529,"symbolStrokeWidth":2,"labelFontSize":13,"labelOffset":11,"rowPadding":0,"clipHeight":15.5,"padding":8,"strokeColor":"#333","fillColor":"white"}}}},
    {"transform":[{"filter":"datum.s=='TNM'"}],"mark":{"type":"line","strokeWidth":1.5,"clip":true},
     "encoding":{"x":{"field":"x","type":"quantitative"},"y":{"field":"y","type":"quantitative"},"order":{"field":"i"},
      "color":{"field":"s","type":"nominal"}}},
    {"transform":[{"filter":"datum.s=='Nomograms'"}],"mark":{"type":"line","strokeWidth":1.5,"clip":true},
     "encoding":{"x":{"field":"x","type":"quantitative"},"y":{"field":"y","type":"quantitative"},"order":{"field":"i"},
      "color":{"field":"s","type":"nominal"}}}
   ]},
  {"width":339,"height":164,"view":{"stroke":null},"title":{"text":"H","dy":4,"dx":-8},"data":{"name":"H"},
   "layer":[
    {"data":{"values":[{}]},"mark":{"type":"rule","color":"#9a9a9a","strokeWidth":1},
     "encoding":{"x":{"datum":0,"type":"quantitative","scale":{"domain":[-0.0124,1.04],"nice":false,"zero":false},"axis":{"values":[0,0.2,0.4,0.6,0.8,1],"grid":true,"gridColor":"#ebebeb","tickSize":6,"tickColor":"#9a9a9a","labelFontSize":14,"labelPadding":4,"labelColor":"#222","title":"High Risk Threshold","titleFontSize":13.5,"titleColor":"#222","titlePadding":-1}},"x2":{"datum":1},
      "y":{"datum":-0.064,"type":"quantitative","scale":{"domain":[-0.064,0.314],"nice":false,"zero":false},"axis":{"values":[0,0.1,0.2,0.3],"offset":9,"grid":true,"gridColor":"#ebebeb","tickSize":6,"tickColor":"#9a9a9a","labelFontSize":14,"labelPadding":0,"labelColor":"#222","title":"Net benefit","titleFontSize":13,"titleColor":"#222","titlePadding":-2}}}},
    {"data":{"values":[{}]},"mark":{"type":"rule","color":"#9a9a9a","strokeWidth":1},
     "encoding":{"x":{"datum":-0.04,"type":"quantitative"},"y":{"datum":0,"type":"quantitative"},"y2":{"datum":0.3}}},
    {"transform":[{"filter":"datum.s=='None' || datum.s=='All'"}],"mark":{"type":"line","strokeWidth":1.5,"clip":true},
     "encoding":{"x":{"field":"x","type":"quantitative"},"y":{"field":"y","type":"quantitative"},"order":{"field":"i"},
      "color":{"field":"s","type":"nominal","scale":{"domain":["TNM","Nomograms","All","None"],"range":["#0000ff","#ff0000","#c4c4c4","#555555"]},"legend":{"title":null,"orient":"none","legendX":205,"legendY":-7,"symbolSize":529,"symbolStrokeWidth":2,"labelFontSize":13,"labelOffset":11,"rowPadding":0,"clipHeight":15.5,"padding":8,"strokeColor":"#333","fillColor":"white"}}}},
    {"transform":[{"filter":"datum.s=='TNM'"}],"mark":{"type":"line","strokeWidth":1.5,"clip":true},
     "encoding":{"x":{"field":"x","type":"quantitative"},"y":{"field":"y","type":"quantitative"},"order":{"field":"i"},
      "color":{"field":"s","type":"nominal"}}},
    {"transform":[{"filter":"datum.s=='Nomograms'"}],"mark":{"type":"line","strokeWidth":1.5,"clip":true},
     "encoding":{"x":{"field":"x","type":"quantitative"},"y":{"field":"y","type":"quantitative"},"order":{"field":"i"},
      "color":{"field":"s","type":"nominal"}}}
   ]}
 ],"bounds":"flush","spacing":58,"resolve":{"scale":{"color":"independent"},"legend":{"color":"independent"}}}
]
}
